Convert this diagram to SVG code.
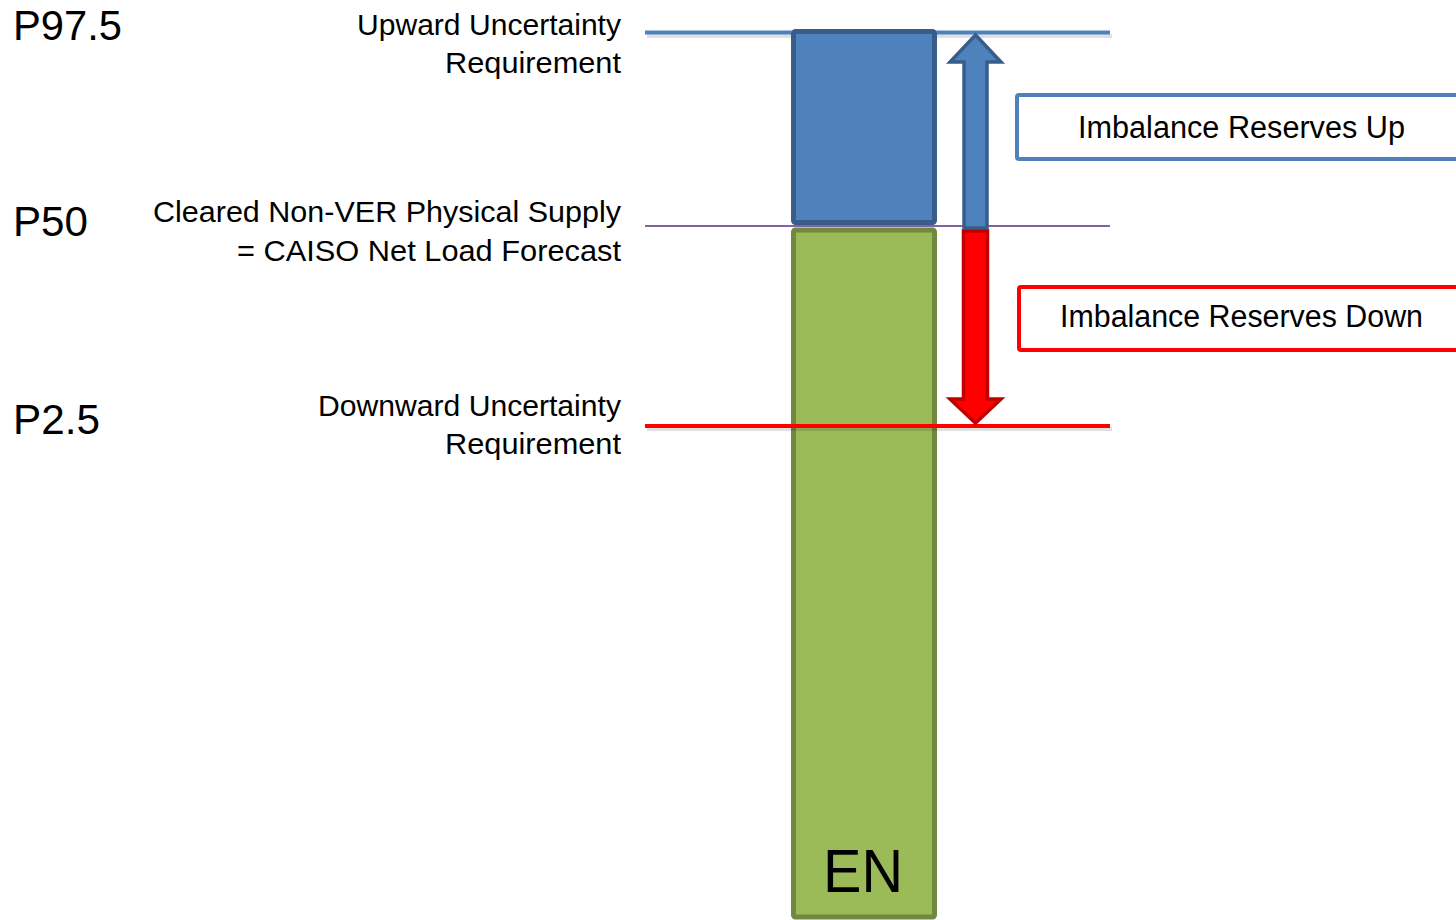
<svg xmlns="http://www.w3.org/2000/svg" width="1456" height="920" viewBox="0 0 1456 920">
<defs>
<style>
text{font-family:"Liberation Sans",Arial,sans-serif;fill:#000}
.p{font-size:42px}
.lbl{font-size:30px}
.box{font-size:31px}
.shadow{stroke:#000;stroke-opacity:0.12}
</style>
</defs>
<rect x="0" y="0" width="1456" height="920" fill="#fff"/>
<g id="levels">
<line class="shadow" x1="647" y1="36" x2="1112" y2="36" stroke-width="4"/>
<line x1="645" y1="32.5" x2="1110" y2="32.5" stroke="#4f81bd" stroke-width="4"/>
<line x1="645" y1="226" x2="1110" y2="226" stroke="#8064a2" stroke-width="2"/>
</g>
<g id="node-up-block">
<rect x="793.5" y="31.5" width="141" height="191" rx="2" fill="#4f81bd" stroke="#385d8a" stroke-width="5"/>
</g>
<g id="node-en">
<rect x="793.5" y="230" width="141" height="687" rx="2" fill="#9bbb59" stroke="#71893f" stroke-width="5"/>
<text x="823" y="892" font-size="62" textLength="80" lengthAdjust="spacingAndGlyphs">EN</text>
</g>
<g id="level-down">
<line class="shadow" x1="647" y1="429" x2="1112" y2="429" stroke-width="4"/>
<line x1="645" y1="426" x2="1110" y2="426" stroke="#ff0000" stroke-width="4"/>
</g>
<g id="connectors">
<polygon points="975.5,35 1001,62 987,62 987,228 964,228 964,62 950,62" fill="#4f81bd" stroke="#385d8a" stroke-width="3.5" stroke-linejoin="miter"/>
<polygon points="963.5,231 987.5,231 987.5,399 1001,399 975.5,423 950,399 963.5,399" fill="#ff0000" stroke="#c00000" stroke-width="3.5" stroke-linejoin="miter"/>
</g>
<g id="node-imb-up">
<rect x="1017" y="95" width="460" height="64" rx="2" fill="#fff" stroke="#4f81bd" stroke-width="4"/>
<text class="box" x="1078" y="138" textLength="327" lengthAdjust="spacingAndGlyphs">Imbalance Reserves Up</text>
</g>
<g id="node-imb-down">
<rect x="1019" y="287" width="460" height="63" rx="2" fill="#fff" stroke="#ff0000" stroke-width="4"/>
<text class="box" x="1060" y="327" textLength="363" lengthAdjust="spacingAndGlyphs">Imbalance Reserves Down</text>
</g>
<g id="labels-p">
<text class="p" x="13" y="40" textLength="109" lengthAdjust="spacingAndGlyphs">P97.5</text>
<text class="p" x="13" y="236" textLength="75" lengthAdjust="spacingAndGlyphs">P50</text>
<text class="p" x="13" y="434" textLength="87" lengthAdjust="spacingAndGlyphs">P2.5</text>
</g>
<g id="labels-req">
<text class="lbl" x="357" y="35" textLength="264" lengthAdjust="spacingAndGlyphs">Upward Uncertainty</text>
<text class="lbl" x="445" y="73" textLength="176" lengthAdjust="spacingAndGlyphs">Requirement</text>
<text class="lbl" x="153" y="222" textLength="468" lengthAdjust="spacingAndGlyphs">Cleared Non-VER Physical Supply</text>
<text class="lbl" x="237" y="261" textLength="384" lengthAdjust="spacingAndGlyphs">= CAISO Net Load Forecast</text>
<text class="lbl" x="318" y="416" textLength="303" lengthAdjust="spacingAndGlyphs">Downward Uncertainty</text>
<text class="lbl" x="445" y="454" textLength="176" lengthAdjust="spacingAndGlyphs">Requirement</text>
</g>
</svg>
